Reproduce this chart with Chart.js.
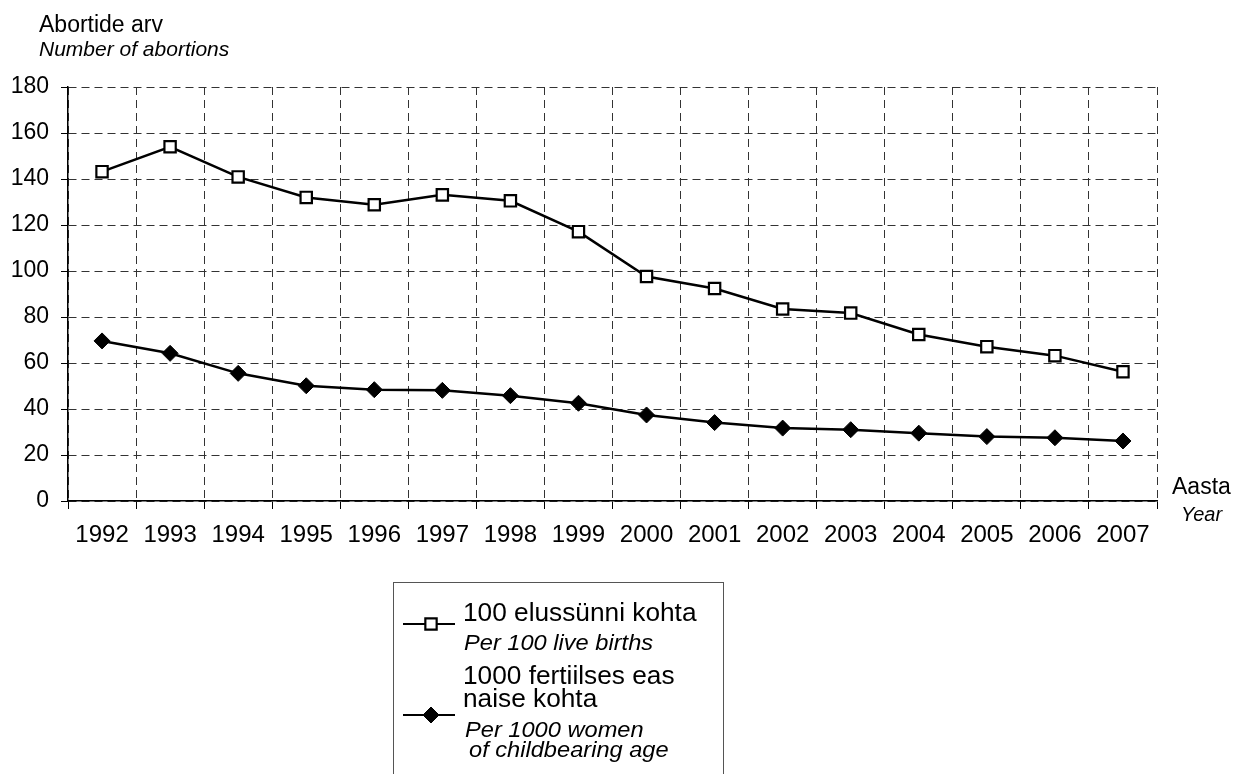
<!DOCTYPE html>
<html>
<head>
<meta charset="utf-8">
<script src="https://cdn.jsdelivr.net/npm/chart.js@4.4.0/dist/chart.umd.min.js"></script>
<style>
  html, body { margin: 0; padding: 0; background: #fff; }
  #wrap { width: 1233px; height: 774px; position: relative; }
</style>
</head>
<body>
<div id="wrap"><canvas id="chart"></canvas></div>
<script>
// data
const years = ['1992', '1993', '1994', '1995', '1996', '1997', '1998', '1999',
               '2000', '2001', '2002', '2003', '2004', '2005', '2006', '2007'];
const perBirths = [143.2, 154, 140.9, 132, 128.8, 133.1, 130.5, 117.1,
                   97.6, 92.4, 83.5, 81.7, 72.4, 67.1, 63.2, 56.2];
const perWomen = [69.6, 64.2, 55.5, 50.1, 48.4, 48.1, 45.8, 42.5,
                  37.4, 34.1, 31.7, 31, 29.5, 28, 27.5, 26.1];
const yMin = 0, yMax = 180, yStep = 20;

const birthsLabel = ['100 elussünni kohta', 'Per 100 live births'];
const womenLabel = ['1000 fertiilses eas', 'naise kohta', 'Per 1000 women', 'of childbearing age'];
const yTitle = ['Abortide arv', 'Number of abortions'];
const xTitle = ['Aasta', 'Year'];

const FONT = '"Liberation Sans", Arial, sans-serif';

function stretched(ctx, text, x, y, sx) {
  ctx.save();
  ctx.translate(x, y);
  ctx.scale(sx, 1);
  ctx.fillText(text, 0, 0);
  ctx.restore();
}

// axis titles and the boxed legend
const extras = {
  id: 'extras',
  afterDraw(chart) {
    const ctx = chart.ctx;
    const ds = chart.data.datasets;
    ctx.save();
    ctx.fillStyle = '#000';
    ctx.textAlign = 'left';
    ctx.textBaseline = 'alphabetic';

    ctx.font = '23px ' + FONT;
    ctx.fillText(yTitle[0], 39, 32);
    ctx.font = 'italic 21px ' + FONT;
    ctx.fillText(yTitle[1], 39, 56);

    ctx.font = '23px ' + FONT;
    ctx.fillText(xTitle[0], 1172, 494);
    ctx.font = 'italic 20px ' + FONT;
    ctx.fillText(xTitle[1], 1181, 521);

    // legend box
    ctx.strokeStyle = '#555';
    ctx.lineWidth = 1;
    ctx.strokeRect(393.5, 582.5, 330, 210);

    const samples = [
      { y: 624, d: ds[0] },
      { y: 715, d: ds[1] }
    ];
    samples.forEach(s => {
      ctx.strokeStyle = '#000';
      ctx.lineWidth = 2;
      ctx.beginPath();
      ctx.moveTo(403, s.y);
      ctx.lineTo(455, s.y);
      ctx.stroke();
      ctx.fillStyle = s.d.pointBackgroundColor;
      ctx.strokeStyle = s.d.pointBorderColor;
      ctx.lineWidth = s.d.pointBorderWidth;
      Chart.helpers.drawPoint(ctx, {
        pointStyle: s.d.pointStyle,
        radius: s.d.pointRadius,
        borderWidth: s.d.pointBorderWidth,
        rotation: 0
      }, 431, s.y);
    });

    ctx.fillStyle = '#000';
    const sx = 1.05;
    ctx.font = '25px ' + FONT;
    stretched(ctx, birthsLabel[0], 463, 621, sx);
    ctx.font = 'italic 22.5px ' + FONT;
    stretched(ctx, birthsLabel[1], 464, 650, sx);
    ctx.font = '25px ' + FONT;
    stretched(ctx, womenLabel[0], 463, 684, sx);
    stretched(ctx, womenLabel[1], 463, 707, sx);
    ctx.font = 'italic 22.5px ' + FONT;
    stretched(ctx, womenLabel[2], 465, 737, sx);
    stretched(ctx, womenLabel[3], 469, 757, sx);
    ctx.restore();
  }
};

new Chart(document.getElementById('chart'), {
  type: 'line',
  data: {
    labels: years,
    datasets: [{
      label: birthsLabel.join(' '),
      data: perBirths,
      borderColor: '#000',
      borderWidth: 2.5,
      pointStyle: 'rect',
      pointRadius: 8,
      pointBackgroundColor: '#fff',
      pointBorderColor: '#000',
      pointBorderWidth: 2.2,
      tension: 0
    }, {
      label: womenLabel.join(' '),
      data: perWomen,
      borderColor: '#000',
      borderWidth: 2.5,
      pointStyle: 'rectRot',
      pointRadius: 8,
      pointBackgroundColor: '#000',
      pointBorderColor: '#000',
      pointBorderWidth: 1,
      tension: 0
    }]
  },
  options: {
    responsive: true,
    maintainAspectRatio: false,
    animation: false,
    layout: { padding: { top: 87, right: 76, bottom: 213, left: 0 } },
    plugins: {
      legend: { display: false },
      tooltip: { enabled: false }
    },
    scales: {
      x: {
        offset: true,
        afterFit: s => { s.height = 60; },
        grid: {
          offset: true,
          color: '#333',
          lineWidth: 1,
          tickColor: '#000',
          tickLength: 8,
          tickBorderDash: []
        },
        border: { display: true, color: '#000', width: 1.5, dash: [8, 5] },
        ticks: {
          color: '#000',
          font: { family: FONT, size: 24 },
          maxRotation: 0,
          autoSkip: false,
          padding: 12
        }
      },
      y: {
        min: yMin,
        max: yMax,
        afterFit: s => { s.width = 68; },
        grid: {
          color: '#333',
          lineWidth: 1,
          tickColor: '#000',
          tickLength: 7,
          tickBorderDash: []
        },
        border: { display: true, color: '#000', width: 1.5, dash: [8, 5] },
        ticks: {
          stepSize: yStep,
          color: '#000',
          font: { family: FONT, size: 23 },
          padding: 12
        }
      }
    }
  },
  plugins: [extras]
});
</script>
</body>
</html>
